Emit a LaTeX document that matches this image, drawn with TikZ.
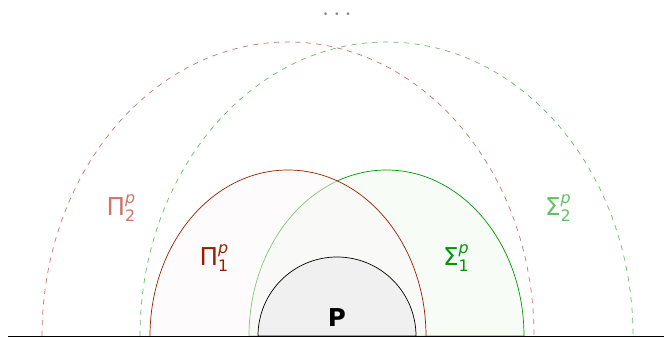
\documentclass[tikz,border=0pt]{standalone}
\usepackage{fontspec}
\setmainfont{DejaVu Sans}
\usepackage{xcolor}
\usetikzlibrary{positioning}

\definecolor{pione}{RGB}{150,30,0}
\definecolor{sigone}{RGB}{0,150,0}
\definecolor{pitwo}{RGB}{205,115,105}
\definecolor{sigtwo}{RGB}{100,190,100}

\newcommand{\cls}[2]{#1\rlap{\raisebox{7pt}{\fontsize{9}{9}\selectfont\itshape p}}\raisebox{-3pt}{\fontsize{9}{9}\selectfont #2}\hphantom{\fontsize{9}{9}\selectfont p}}

\begin{document}
\begin{tikzpicture}[x=0.02cm, y=-0.02cm, font=\fontsize{14}{16}\selectfont]
    % Stili
    \tikzstyle{level}=[thin]
    \tikzstyle{upper}=[level, dashed]
    \tikzstyle{label}=[inner sep=1pt]

    \useasboundingbox (0,0) rectangle (664,338);

    % Secondo livello
    \draw [upper, pitwo] (42,336) arc [start angle=180, end angle=0, x radius=246, y radius=-294];
    \draw [upper, sigtwo] (140,336) arc [start angle=180, end angle=0, x radius=246.5, y radius=-294];

    % Primo livello
    \draw [level, sigone, fill=sigone!3] (249,336) arc [start angle=180, end angle=0, x radius=137.5, y radius=-166] -- cycle;
    \fill [pione!3, fill opacity=0.5] (150,336) arc [start angle=180, end angle=0, x radius=138, y radius=-166] -- cycle;
    \draw [level, pione] (150,336) arc [start angle=180, end angle=0, x radius=138, y radius=-166];

    % P
    \draw [level, fill=black!6] (258,336) arc [start angle=180, end angle=0, x radius=79, y radius=-79] -- cycle;

    % Etichette
    \node (p) [label] at (337,318) {\textbf{P}};
    \node (pi1) [label, text=pione] at (219,258) {\cls{Π}{1}};
    \node (sig1) [label, text=sigone] at (461,258) {\cls{Σ}{1}};
    \node (pi2) [label, text=pitwo] at (126,208) {\cls{Π}{2}};
    \node (sig2) [label, text=sigtwo] at (563,208) {\cls{Σ}{2}};
    \node (dots) [inner sep=0pt, text=black!50] at (337,15) {$\cdots$};

    % Base
    \draw [level] (8,336) -- (664,336);
\end{tikzpicture}
\end{document}
